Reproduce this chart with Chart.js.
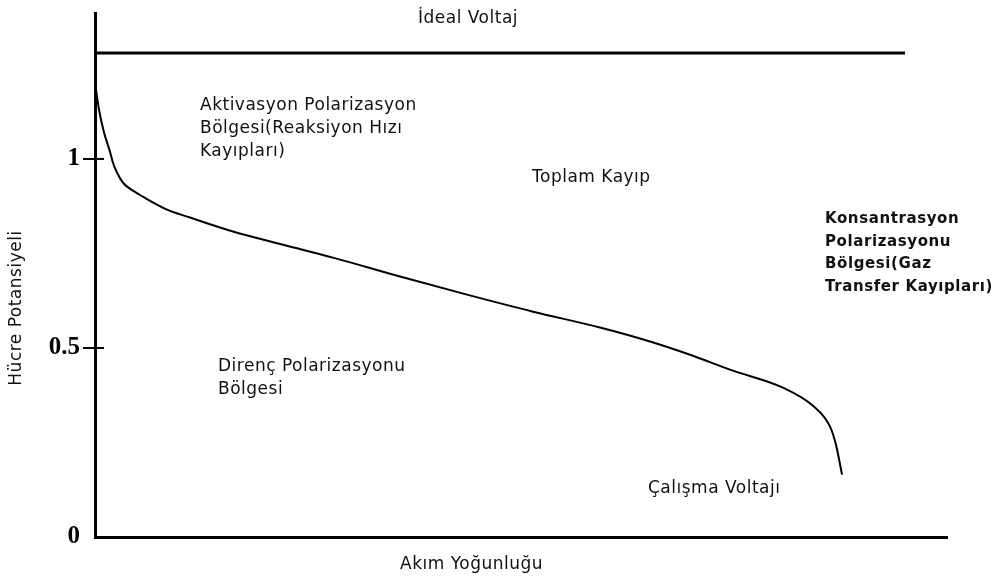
<!DOCTYPE html>
<html><head><meta charset="utf-8">
<script src="https://cdn.jsdelivr.net/npm/chart.js@4.4.1/dist/chart.umd.min.js"></script>
<style>html,body{margin:0;padding:0;background:#fff;}</style>
</head>
<body>
<canvas id="c" width="997" height="581"></canvas>
<script>
// Data
const currentDensity = [0.12, 0.47, 1.06, 1.76, 2.11, 2.58, 3.29, 4.46, 5.63, 8.45, 11.15, 16.2, 22.07, 27.93, 35.8, 43.66, 51.41, 59.27, 65.14, 69.84, 74.88, 80.75, 84.27, 86.27, 86.97, 87.68];
const cellVoltage    = [1.183, 1.130, 1.070, 1.019, 0.990, 0.964, 0.937, 0.916, 0.900, 0.866, 0.845, 0.808, 0.773, 0.739, 0.689, 0.641, 0.596, 0.554, 0.517, 0.482, 0.440, 0.395, 0.347, 0.292, 0.244, 0.165];
const idealX = [0, 95.07];
const idealV = [1.28, 1.28];
const yTickValues = [0, 0.5, 1];
const yTickLabels = ['0', '0.5', '1'];
const xTitle = 'Akım Yoğunluğu';
const yTitle = 'Hücre Potansiyeli';

const textPlugin = {
  id: 'texts',
  afterDraw(chart) {
    const ctx = chart.ctx;
    ctx.save();
    ctx.fillStyle = '#111';
    ctx.textBaseline = 'middle';
    ctx.textAlign = 'left';
    const reg = '17px "DejaVu Sans"';
    const bold = 'bold 15px "DejaVu Sans"';
    const put = (t, x, y, f, sp) => { ctx.font = f; ctx.letterSpacing = sp; ctx.fillText(t, x, y); };
    put('İdeal Voltaj', 418, 19, reg, '0.5px');
    put('Aktivasyon Polarizasyon', 200, 106, reg, '0.5px');
    put('Bölgesi(Reaksiyon Hızı', 200, 129, reg, '0.5px');
    put('Kayıpları)', 200, 152, reg, '0.5px');
    put('Toplam Kayıp', 532, 178, reg, '0.5px');
    put('Konsantrasyon', 825, 219, bold, '0.6px');
    put('Polarizasyonu', 825, 242, bold, '0.6px');
    put('Bölgesi(Gaz', 825, 264, bold, '0.6px');
    put('Transfer Kayıpları)', 825, 287, bold, '0.6px');
    put('Direnç Polarizasyonu', 218, 367, reg, '0.5px');
    put('Bölgesi', 218, 390, reg, '0.5px');
    put('Çalışma Voltajı', 648, 489, reg, '0.5px');
    put(xTitle, 400, 565, reg, '0.5px');
    ctx.translate(17, 308);
    ctx.rotate(-Math.PI / 2);
    ctx.textAlign = 'center';
    put(yTitle, 0, 0, reg, '0.5px');
    ctx.restore();

    // inner half of the y tick crosses
    const ys = chart.scales.y;
    const left = chart.chartArea.left;
    ctx.save();
    ctx.strokeStyle = '#000';
    ctx.lineWidth = 2;
    ys.ticks.forEach(t => {
      if (t.value === 0) return;
      const py = ys.getPixelForValue(t.value);
      ctx.beginPath();
      ctx.moveTo(left, py);
      ctx.lineTo(left + 9, py);
      ctx.stroke();
    });
    ctx.restore();
  }
};

new Chart(document.getElementById('c'), {
  type: 'line',
  data: {
    datasets: [
      {
        data: idealX.map((x, i) => ({ x, y: idealV[i] })),
        borderColor: '#000', borderWidth: 3, pointRadius: 0, tension: 0
      },
      {
        data: currentDensity.map((x, i) => ({ x, y: cellVoltage[i] })),
        borderColor: '#000', borderWidth: 2, pointRadius: 0,
        cubicInterpolationMode: 'monotone'
      }
    ]
  },
  options: {
    responsive: false,
    animation: false,
    layout: { padding: { top: 13, right: 50, left: 0, bottom: 0 } },
    plugins: { legend: { display: false }, tooltip: { enabled: false } },
    scales: {
      x: {
        type: 'linear', min: 0, max: 100,
        ticks: { display: false },
        grid: { display: true, drawOnChartArea: false, drawTicks: false },
        border: { display: true, color: '#000', width: 3 },
        afterFit(s) { s.height = 44; s.paddingLeft = 0; s.paddingRight = 0; }
      },
      y: {
        type: 'linear', min: 0, max: 1.386,
        afterBuildTicks(s) { s.ticks = yTickValues.map(v => ({ value: v })); },
        ticks: {
          callback: (v, i) => yTickLabels[i],
          font: { family: '"Liberation Serif"', weight: 'bold', size: 25 },
          color: '#000', padding: 3
        },
        grid: {
          drawOnChartArea: false, tickLength: 12, lineWidth: 2,
          color: c => (c.tick && c.tick.value === 0) ? 'rgba(0,0,0,0)' : '#000'
        },
        border: { display: true, color: '#000', width: 3 },
        afterFit(s) { s.width = 95; s.paddingTop = 0; s.paddingBottom = 0; }
      }
    }
  },
  plugins: [textPlugin]
});
</script>
</body></html>
